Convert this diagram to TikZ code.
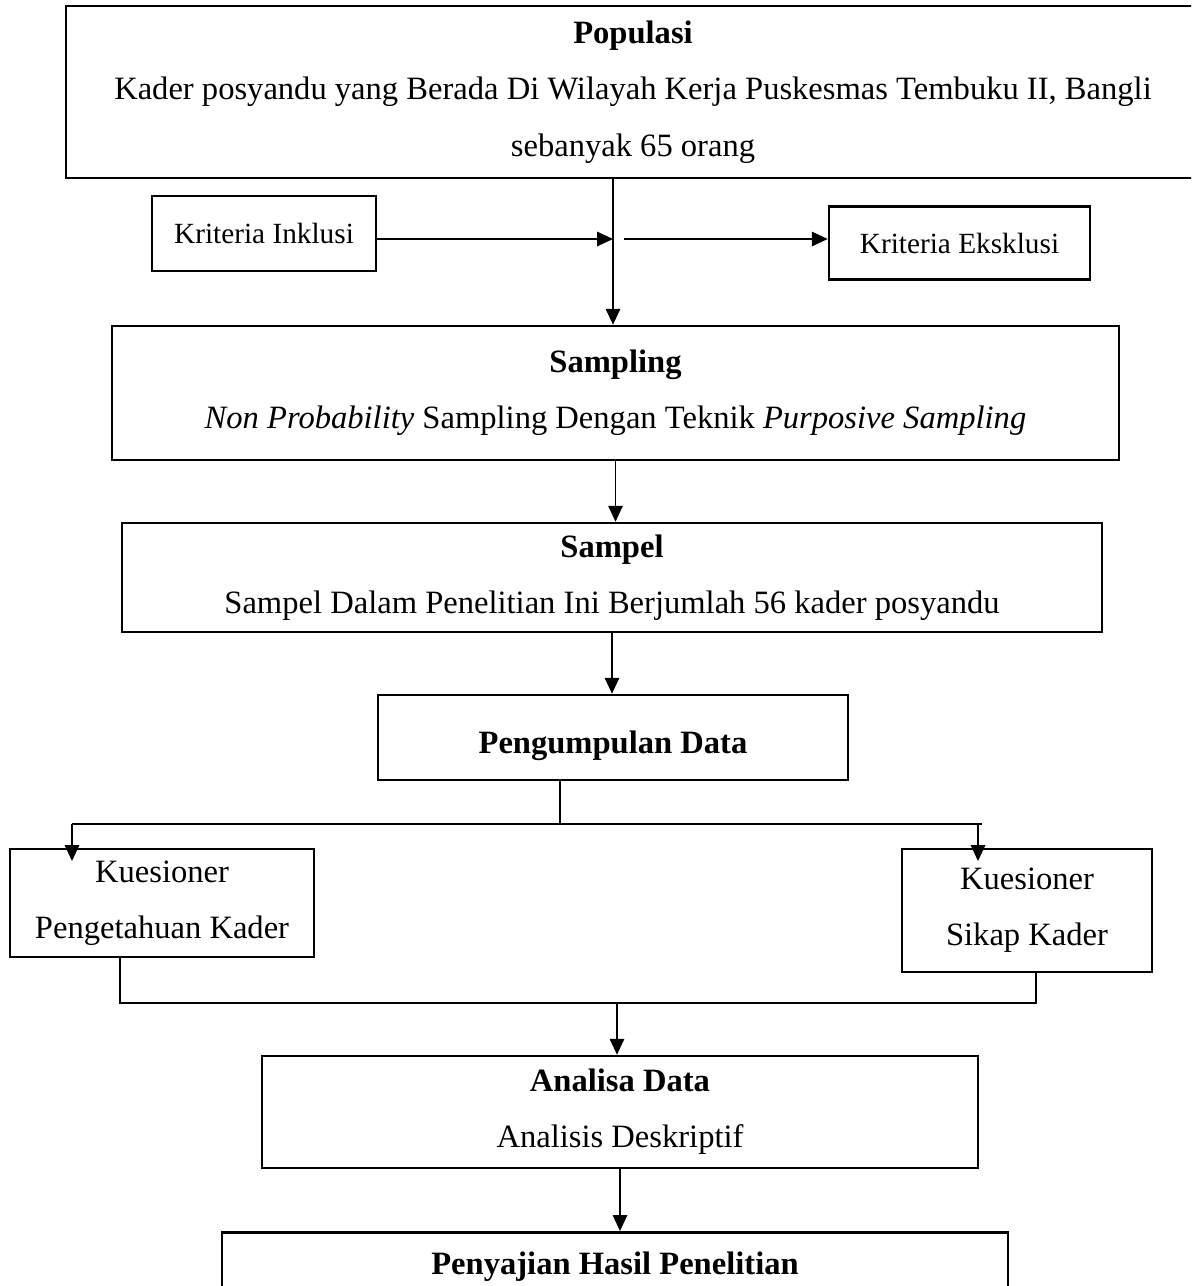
\documentclass[tikz,border=0pt]{standalone}
\usepackage{fontspec}
\setmainfont{Liberation Serif}
\usepackage{tikz}
\usetikzlibrary{arrows.meta,positioning,calc}
\tikzset{
    % Sharp-cornered boxes
    flowbox/.style={
        rectangle,
        draw=black,
        line width=1.1pt,
        fill=white,
        text=black,
        align=center,
        inner sep=0pt,
        font=\fontsize{13.9}{24}\selectfont
    },
    small box/.style={
        flowbox,
        font=\fontsize{12.5}{16}\selectfont
    },
    arrow/.style={
        -{Triangle[length=6.8pt,width=6.2pt]},
        line width=0.6pt,
        color=black
    },
    link/.style={
        line width=0.6pt,
        color=black
    }
}
\begin{document}
\begin{tikzpicture}[x=0.015cm, y=-0.015cm]
        \useasboundingbox (0,0) rectangle (1191,1286);
        \clip (0,0) rectangle (1191,1286);

        % Nodes
        \node[flowbox, minimum width=17.01cm, minimum height=2.58cm] (populasi) at (633,92)
            {\textbf{Populasi}\\Kader posyandu yang Berada Di Wilayah Kerja Puskesmas Tembuku II, Bangli\\sebanyak 65 orang};
        \node[small box, minimum width=3.36cm, minimum height=1.125cm] (inklusi) at (264,233.5) {Kriteria Inklusi};
        \node[small box, minimum width=3.915cm, minimum height=1.095cm] (eksklusi) at (959.5,243) {Kriteria Eksklusi};
        \node[flowbox, minimum width=15.105cm, minimum height=2.01cm] (sampling) at (615.5,393)
            {\textbf{Sampling}\\\textit{Non Probability} Sampling Dengan Teknik \textit{Purposive Sampling}};
        \node[flowbox, minimum width=14.7cm, minimum height=1.635cm] (sampel) at (612,577.5)
            {\textbf{Sampel}\\Sampel Dalam Penelitian Ini Berjumlah 56 kader posyandu};
        \node[flowbox, minimum width=7.05cm, minimum height=1.275cm, text height=17pt] (pengumpulan) at (613,737.5)
            {\textbf{Pengumpulan Data}};
        \node[flowbox, minimum width=4.56cm, minimum height=1.62cm] (kuespengetahuan) at (162,903)
            {Kuesioner\\Pengetahuan Kader};
        \node[flowbox, minimum width=3.75cm, minimum height=1.845cm] (kuessikap) at (1027,910.5)
            {Kuesioner\\Sikap Kader};
        \node[flowbox, minimum width=10.74cm, minimum height=1.68cm] (analisa) at (620,1112)
            {\textbf{Analisa Data}\\Analisis Deskriptif};
        \node[flowbox, anchor=north, minimum width=11.79cm, text height=14pt, text depth=2cm, inner ysep=4pt] (penyajian) at (615,1231)
            {\textbf{Penyajian Hasil Penelitian}};

        % Junctions
        \coordinate (cross) at (613,239);
        \coordinate (crossright) at (624,239);
        \coordinate (split) at (560,824);
        \coordinate (splitleft) at (72,824);
        \coordinate (splitright) at (978,824);
        \coordinate (mergeleft) at (120,1003);
        \coordinate (mergeright) at (1036,1003);
        \coordinate (merge) at (617,1003);

        % Arrows
        \draw[arrow] (cross |- populasi.south) -- (cross |- sampling.north);
        \draw[arrow] (inklusi.east |- cross) -- (cross);
        \draw[arrow] (crossright) -- (crossright -| eksklusi.west);
        \draw[arrow] (sampling.south) -- (sampling.south |- sampel.north);
        \draw[arrow] (sampel.south) -- (sampel.south |- pengumpulan.north);
        \draw[link] (split |- pengumpulan.south) -- (split);
        \draw[link] (splitleft) -- (982,824);
        \draw[arrow, shorten >=-0.2cm] (splitleft) -- (splitleft |- kuespengetahuan.north);
        \draw[arrow, shorten >=-0.2cm] (splitright) -- (splitright |- kuessikap.north);
        \draw[link] (mergeleft |- kuespengetahuan.south) -- (mergeleft) -- (mergeright) -- (mergeright |- kuessikap.south);
        \draw[arrow] (merge) -- (merge |- analisa.north);
        \draw[arrow] (analisa.south) -- (analisa.south |- penyajian.north);
    \end{tikzpicture}
\end{document}
